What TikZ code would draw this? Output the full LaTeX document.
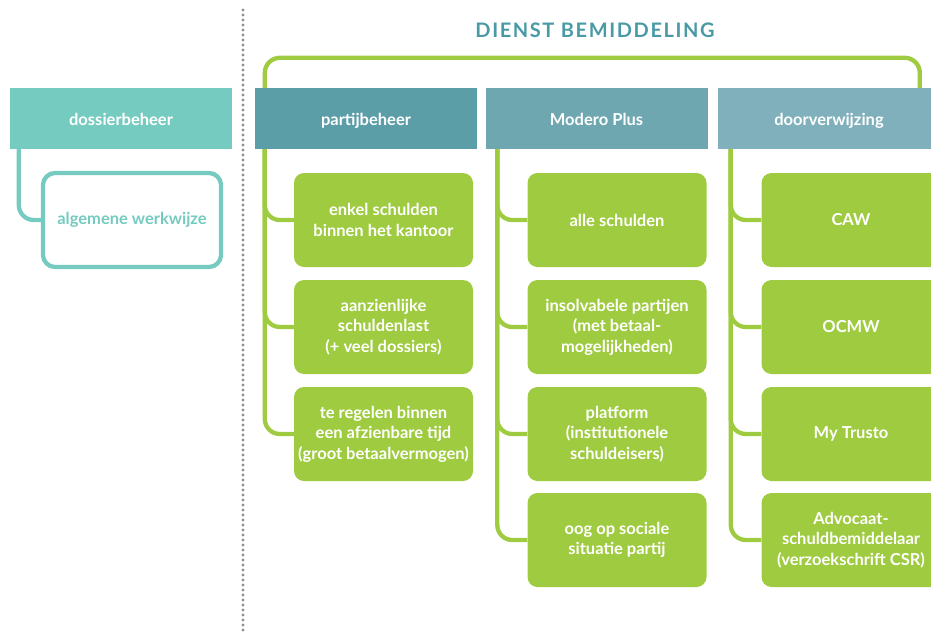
\documentclass[tikz,border=0pt]{standalone}
\usepackage{fontspec}
\setmainfont{Lato}
\newfontfamily\titlefont[LetterSpace=8]{Lato}
\definecolor{hdos}{HTML}{76CBC1}
\definecolor{hpart}{HTML}{5B9EA8}
\definecolor{hmod}{HTML}{6FA7B1}
\definecolor{hdoor}{HTML}{80B0BC}
\definecolor{leaf}{HTML}{9ECB3F}
\definecolor{titleteal}{HTML}{4A9AA5}
\definecolor{dotgrey}{HTML}{8E8E8E}
\tikzset{
  head/.style={rectangle, minimum width=222pt, minimum height=61pt, inner sep=0pt,
    text height=15pt, text depth=1pt,
    text=white, font=\bfseries\fontsize{16.5}{20}\selectfont},
  leafbox/.style={rectangle, rounded corners=10pt, fill=leaf, minimum width=179pt,
    minimum height=94pt, inner sep=0pt, align=center, text=white,
    font=\bfseries\fontsize{16.5}{20.5}\selectfont},
  conn/.style={draw=leaf, line width=4.3pt, rounded corners=15pt},
  tealconn/.style={draw=hdos, line width=4.3pt, rounded corners=15pt}
}
\begin{document}
\begin{tikzpicture}[x=1pt,y=-1pt]
\useasboundingbox (0,0) rectangle (931,632);
\clip (0,0) rectangle (931,632);

% separator
\draw[dotgrey, line width=3.4pt, line cap=round, dash pattern=on 0pt off 5pt] (243,10) -- (243,632);

% title
\node[text=titleteal, font=\titlefont\bfseries\fontsize{20}{24}\selectfont] (title) at (595,30) {DIENST BEMIDDELING};

% headers
\node[head, fill=hdos] (dos) at (121,118.5) {dossierbeheer};
\node[head, fill=hpart] (part) at (366,118.5) {partijbeheer};
\node[head, fill=hmod] (mod) at (596.5,118.5) {Modero Plus};
\node[head, fill=hdoor] (door) at (829,118.5) {doorverwijzing};

% dossierbeheer branch
\node[rectangle, rounded corners=12pt, draw=hdos, line width=4.3pt, fill=white,
  minimum width=178pt, minimum height=94pt, text=hdos,
  font=\bfseries\fontsize{16.5}{20}\selectfont] (alg) at (132,220) {algemene werkwijze};
\draw[tealconn] ([xshift=9pt]dos.south west) |- (alg.west);

% partijbeheer column
\node[leafbox] (p1) at (383.5,220) {enkel schulden\\binnen het kantoor};
\node[leafbox] (p2) at (383.5,327) {aanzienlijke\\schuldenlast\\(+ veel dossiers)};
\node[leafbox] (p3) at (383.5,434) {te regelen binnen\\een afzienbare tijd\\(groot betaalvermogen)};

% Modero Plus column
\node[leafbox] (m1) at (617,220) {alle schulden};
\node[leafbox] (m2) at (617,327) {insolvabele partijen\\(met betaal-\\mogelijkheden)};
\node[leafbox] (m3) at (617,434) {platform\\(institutionele\\schuldeisers)};
\node[leafbox] (m4) at (617,540) {oog op sociale\\situatie partij};

% doorverwijzing column
\node[leafbox] (d1) at (851,220) {CAW};
\node[leafbox] (d2) at (851,327) {OCMW};
\node[leafbox] (d3) at (851,434) {My Trusto};
\node[leafbox] (d4) at (851,540) {Advocaat-\\schuldbemiddelaar\\(verzoekschrift CSR)};

% bracket over the service columns
\draw[conn] ([xshift=10pt]part.north west) |- ([xshift=202pt,yshift=30pt]door.north west)
  -- ([xshift=202pt]door.north west);

% branches
\foreach \b in {p1,p2,p3}{\draw[conn] ([xshift=10pt]part.south west) |- (\b.west);}
\foreach \b in {m1,m2,m3,m4}{\draw[conn] ([xshift=12pt]mod.south west) |- (\b.west);}
\foreach \b in {d1,d2,d3,d4}{\draw[conn] ([xshift=13pt]door.south west) |- (\b.west);}
\end{tikzpicture}
\end{document}
